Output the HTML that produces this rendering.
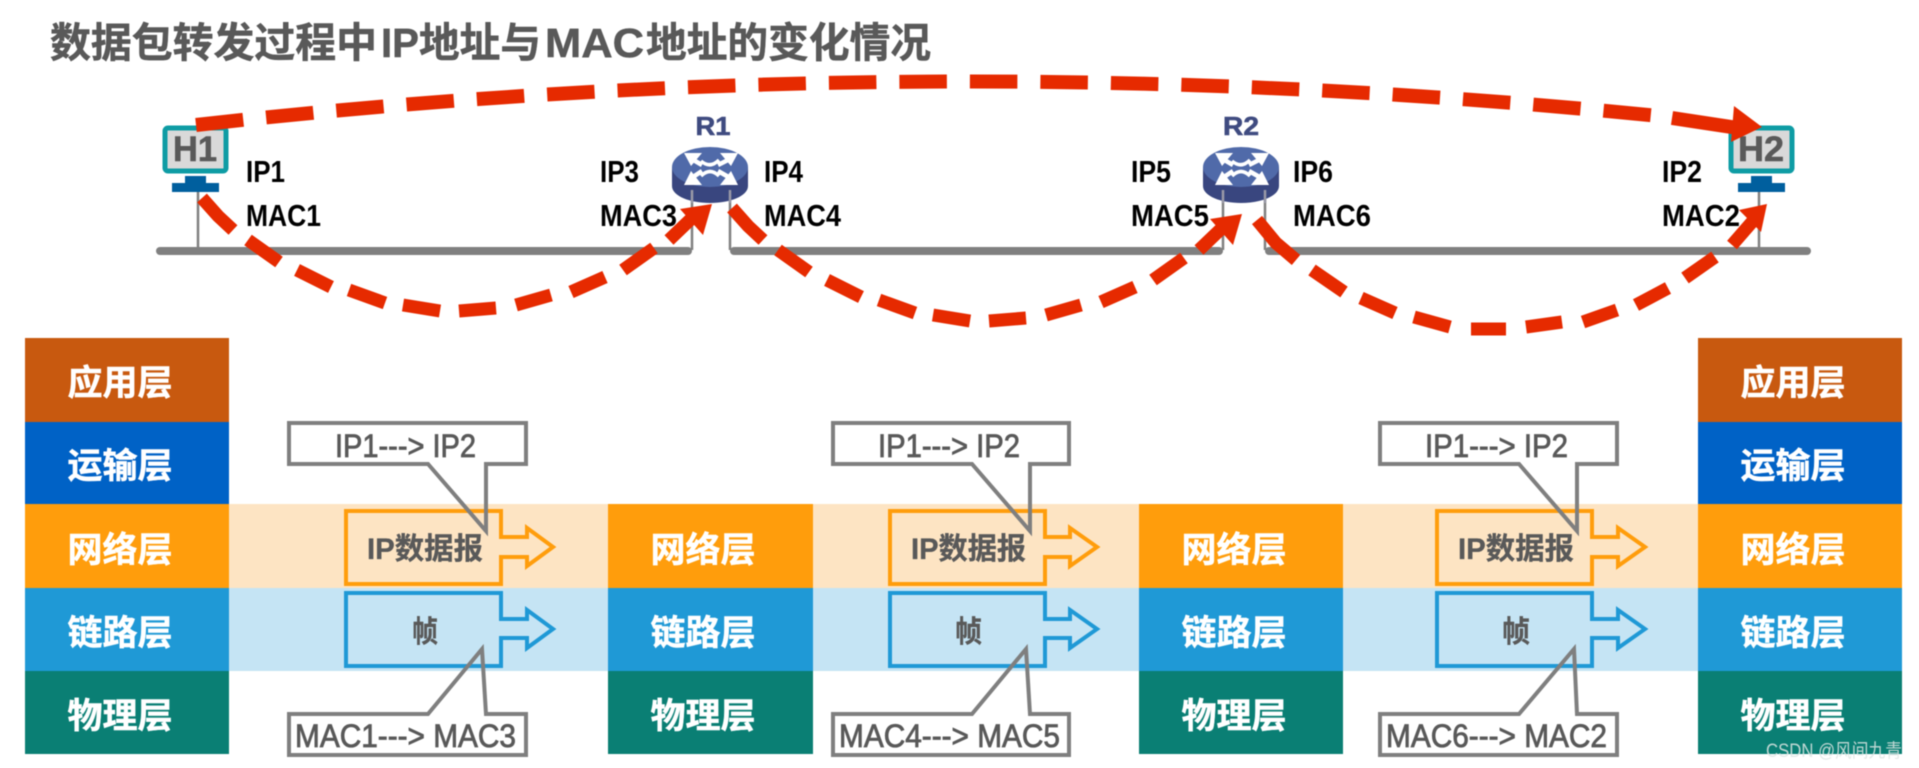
<!DOCTYPE html>
<html><head><meta charset="utf-8">
<style>
html,body{margin:0;padding:0;background:#fff;width:1919px;height:768px;overflow:hidden}
svg{display:block;filter:blur(.45px)}
text{font-family:"Liberation Sans","Noto Sans CJK SC",sans-serif}
.w{fill:#fff;font-weight:700;font-size:35px;text-anchor:middle;stroke:#fff;stroke-width:.5}
.l{fill:#000;font-size:31px;font-weight:700}
.c{fill:#595959;font-size:32px;stroke:#595959;stroke-width:.8}
.t{fill:#595959;font-size:41px;font-weight:700;stroke:#595959;stroke-width:.5}
.b{fill:#595959;font-size:30px;font-weight:700;stroke:#595959;stroke-width:.3}
.call{fill:none;stroke:#7f7f7f;stroke-width:4;stroke-linejoin:miter}
.o{fill:none;stroke:#FF9D0C;stroke-width:4}
.s{fill:none;stroke:#1F99D6;stroke-width:4}
</style></head><body>
<svg width="1919" height="768" viewBox="0 0 1919 768" xmlns="http://www.w3.org/2000/svg">
<defs>
<clipPath id="topclip"><rect x="150" y="50" width="1512" height="120"/></clipPath>
<g id="router">
  <path d="M672 167V186C672 196 690 203 710 203C730 203 748 196 748 186V167Z" fill="#39467F"/>
  <ellipse cx="710" cy="167" rx="38" ry="20" fill="#506AA9"/>
  <g fill="none" stroke="#fff" stroke-width="4.5">
    <path d="M702 165L690 158"/><path d="M718 165L732 158"/><path d="M702 171L690 179"/><path d="M718 171L732 179"/>
    <path d="M701 161Q710 169 719 160" stroke-width="3.5"/><path d="M701 176Q710 167 719 176" stroke-width="3.5"/>
  </g>
  <g fill="#fff">
    <polygon points="684,153 702,153 691,166"/>
    <polygon points="738,153 720,153 731,166"/>
    <polygon points="684,185 702,185 691,171"/>
    <polygon points="738,185 720,185 731,171"/>
  </g>
</g>
<g id="curve">
  <g fill="none" stroke="#E62A00" stroke-width="13">
    <path d="M202 198L218 216L233 230"/>
    <path d="M248 240L279 262"/>
    <path d="M297 270L331 287"/>
    <path d="M349 290L385 303"/>
    <path d="M403 305L440 311"/>
    <path d="M459 311L496 308"/>
    <path d="M516 305L551 295"/>
    <path d="M571 292L605 277"/>
    <path d="M623 270L654 248"/>
    <path d="M669 240L692 218"/>
  </g>
  <polygon points="680,209 712,204 703,235" fill="#E62A00"/>
</g>
</defs>

<!-- Title -->
<text class="t" x="50" y="57" textLength="327" lengthAdjust="spacingAndGlyphs">数据包转发过程中</text>
<text class="t" x="381" y="57" textLength="38" lengthAdjust="spacingAndGlyphs">IP</text>
<text class="t" x="419" y="57" textLength="122" lengthAdjust="spacingAndGlyphs">地址与</text>
<text class="t" x="545" y="57" textLength="99" lengthAdjust="spacingAndGlyphs">MAC</text>
<text class="t" x="646" y="57" textLength="285" lengthAdjust="spacingAndGlyphs">地址的变化情况</text>

<!-- Network bars -->
<g fill="#808080">
  <rect x="156" y="247" width="536" height="8" rx="4"/>
  <rect x="730" y="247" width="493" height="8" rx="4"/>
  <rect x="1265" y="247" width="546" height="8" rx="4"/>
</g>
<g stroke="#808080" stroke-width="2.5" fill="none">
  <path d="M198 190V248M692 190V250M730 190V250M1223 190V250M1265 190V250M1759 190V248"/>
</g>

<!-- Hosts -->
<g>
  <rect x="165" y="128" width="61" height="43" rx="3" fill="#D9D9D9" stroke="#0E9CA4" stroke-width="5"/>
  <text x="195" y="161" font-size="35" font-weight="700" fill="#595959" stroke="#595959" stroke-width=".6" text-anchor="middle" textLength="44" lengthAdjust="spacingAndGlyphs">H1</text>
  <rect x="185" y="176" width="21" height="8" fill="#005F9E"/>
  <rect x="172" y="183" width="47" height="9" fill="#005F9E"/>
</g>
<g>
  <rect x="1731" y="128" width="61" height="43" rx="3" fill="#D9D9D9" stroke="#0E9CA4" stroke-width="5"/>
  <text x="1761" y="161" font-size="35" font-weight="700" fill="#595959" stroke="#595959" stroke-width=".6" text-anchor="middle" textLength="46" lengthAdjust="spacingAndGlyphs">H2</text>
  <rect x="1751" y="176" width="21" height="8" fill="#005F9E"/>
  <rect x="1738" y="183" width="47" height="9" fill="#005F9E"/>
</g>

<!-- Routers -->
<use href="#router"/>
<use href="#router" x="531"/>
<path d="M692 190V203M730 190V203M1223 190V203M1265 190V203" stroke="#9a9aa8" stroke-width="2.5" fill="none"/>
<text x="713" y="135" font-size="26" font-weight="700" fill="#3F4B80" stroke="#3F4B80" stroke-width=".6" text-anchor="middle" textLength="35" lengthAdjust="spacingAndGlyphs">R1</text>
<text x="1241" y="135" font-size="26" font-weight="700" fill="#3F4B80" stroke="#3F4B80" stroke-width=".6" text-anchor="middle" textLength="36" lengthAdjust="spacingAndGlyphs">R2</text>

<!-- Address labels -->
<g class="lbl">
<text class="l" x="246" y="182" textLength="39" lengthAdjust="spacingAndGlyphs">IP1</text>
<text class="l" x="246" y="226" textLength="75" lengthAdjust="spacingAndGlyphs">MAC1</text>
<text class="l" x="600" y="182" textLength="39" lengthAdjust="spacingAndGlyphs">IP3</text>
<text class="l" x="600" y="226" textLength="77" lengthAdjust="spacingAndGlyphs">MAC3</text>
<text class="l" x="764" y="182" textLength="39" lengthAdjust="spacingAndGlyphs">IP4</text>
<text class="l" x="764" y="226" textLength="77" lengthAdjust="spacingAndGlyphs">MAC4</text>
<text class="l" x="1131" y="182" textLength="40" lengthAdjust="spacingAndGlyphs">IP5</text>
<text class="l" x="1131" y="226" textLength="78" lengthAdjust="spacingAndGlyphs">MAC5</text>
<text class="l" x="1293" y="182" textLength="40" lengthAdjust="spacingAndGlyphs">IP6</text>
<text class="l" x="1293" y="226" textLength="78" lengthAdjust="spacingAndGlyphs">MAC6</text>
<text class="l" x="1662" y="182" textLength="40" lengthAdjust="spacingAndGlyphs">IP2</text>
<text class="l" x="1662" y="226" textLength="78" lengthAdjust="spacingAndGlyphs">MAC2</text>
</g>

<!-- Red dashed paths -->
<path d="M196 125Q978 37 1761 127" fill="none" stroke="#E62A00" stroke-width="14" stroke-dasharray="47.5 23" clip-path="url(#topclip)"/>
<path d="M1672 118L1738 128" fill="none" stroke="#E62A00" stroke-width="14"/>
<polygon points="1734,106 1762,127 1731,142" fill="#E62A00"/>
<use href="#curve"/>
<use href="#curve" x="530" y="10"/>
<g fill="none" stroke="#E62A00" stroke-width="13">
  <path d="M1257 220L1276 243L1296 260"/>
  <path d="M1312 270L1344 292"/>
  <path d="M1361 298L1395 313"/>
  <path d="M1414 317L1450 327"/>
  <path d="M1471 329L1506 329"/>
  <path d="M1526 327L1562 322"/>
  <path d="M1583 322L1617 310"/>
  <path d="M1636 305L1668 288"/>
  <path d="M1685 278L1715 257"/>
  <path d="M1732 245L1752 222"/>
</g>
<polygon points="1739,210 1767,204 1761,232" fill="#E62A00"/>

<!-- Bands -->
<rect x="229" y="504" width="1469" height="84" fill="#FDE4C3"/>
<rect x="229" y="588" width="1469" height="83" fill="#C5E4F4"/>

<!-- Left stack -->
<rect x="25" y="338" width="204" height="84" fill="#C8590F"/>
<rect x="25" y="422" width="204" height="82" fill="#0062C6"/>
<rect x="25" y="504" width="204" height="84" fill="#FF9D0C"/>
<rect x="25" y="588" width="204" height="83" fill="#1F99D6"/>
<rect x="25" y="671" width="204" height="83" fill="#0A7F74"/>
<text class="w" x="120" y="395">应用层</text>
<text class="w" x="120" y="478">运输层</text>
<text class="w" x="120" y="562">网络层</text>
<text class="w" x="120" y="645">链路层</text>
<text class="w" x="120" y="728">物理层</text>

<!-- Middle stacks -->
<rect x="608" y="504" width="205" height="84" fill="#FF9D0C"/>
<rect x="608" y="588" width="205" height="83" fill="#1F99D6"/>
<rect x="608" y="671" width="205" height="83" fill="#0A7F74"/>
<text class="w" x="703" y="562">网络层</text>
<text class="w" x="703" y="645">链路层</text>
<text class="w" x="703" y="728">物理层</text>

<rect x="1139" y="504" width="204" height="84" fill="#FF9D0C"/>
<rect x="1139" y="588" width="204" height="83" fill="#1F99D6"/>
<rect x="1139" y="671" width="204" height="83" fill="#0A7F74"/>
<text class="w" x="1234" y="562">网络层</text>
<text class="w" x="1234" y="645">链路层</text>
<text class="w" x="1234" y="728">物理层</text>

<!-- Right stack -->
<rect x="1698" y="338" width="204" height="84" fill="#C8590F"/>
<rect x="1698" y="422" width="204" height="82" fill="#0062C6"/>
<rect x="1698" y="504" width="204" height="84" fill="#FF9D0C"/>
<rect x="1698" y="588" width="204" height="83" fill="#1F99D6"/>
<rect x="1698" y="671" width="204" height="83" fill="#0A7F74"/>
<text class="w" x="1793" y="395">应用层</text>
<text class="w" x="1793" y="478">运输层</text>
<text class="w" x="1793" y="562">网络层</text>
<text class="w" x="1793" y="645">链路层</text>
<text class="w" x="1793" y="728">物理层</text>

<!-- Group 1 -->
<path class="o" d="M346 511H501V537H527V528L553 547L527 566V557H501V584H346Z"/>
<path class="s" d="M346 593H501V619H527V610L553 629L527 648V638H501V666H346Z"/>
<path class="call" d="M289 423H526V464H486V531L428 464H289Z"/>
<path class="call" d="M289 714H428L482 649L486 714H526V755H289Z"/>
<text class="c" x="335" y="457" textLength="141" lengthAdjust="spacingAndGlyphs">IP1---&gt; IP2</text>
<text class="c" x="295" y="747" textLength="221" lengthAdjust="spacingAndGlyphs">MAC1---&gt; MAC3</text>
<text class="b" x="367" y="559" textLength="116" lengthAdjust="spacingAndGlyphs">IP数据报</text>
<text class="b" x="412" y="642" textLength="26" lengthAdjust="spacingAndGlyphs">帧</text>

<!-- Group 2 -->
<path class="o" d="M890 511H1045V537H1070V528L1097 547L1070 566V557H1045V584H890Z"/>
<path class="s" d="M890 593H1045V619H1070V610L1097 629L1070 648V638H1045V666H890Z"/>
<path class="call" d="M833 423H1069V464H1030V531L972 464H833Z"/>
<path class="call" d="M833 714H972L1026 649L1030 714H1069V755H833Z"/>
<text class="c" x="878" y="457" textLength="142" lengthAdjust="spacingAndGlyphs">IP1---&gt; IP2</text>
<text class="c" x="839" y="747" textLength="221" lengthAdjust="spacingAndGlyphs">MAC4---&gt; MAC5</text>
<text class="b" x="911" y="559" textLength="115" lengthAdjust="spacingAndGlyphs">IP数据报</text>
<text class="b" x="955" y="642" textLength="27" lengthAdjust="spacingAndGlyphs">帧</text>

<!-- Group 3 -->
<path class="o" d="M1437 511H1592V537H1618V528L1645 547L1618 566V557H1592V584H1437Z"/>
<path class="s" d="M1437 593H1592V619H1618V610L1645 629L1618 648V638H1592V666H1437Z"/>
<path class="call" d="M1380 423H1617V464H1577V531L1519 464H1380Z"/>
<path class="call" d="M1380 714H1519L1574 649L1577 714H1617V755H1380Z"/>
<text class="c" x="1425" y="457" textLength="143" lengthAdjust="spacingAndGlyphs">IP1---&gt; IP2</text>
<text class="c" x="1386" y="747" textLength="221" lengthAdjust="spacingAndGlyphs">MAC6---&gt; MAC2</text>
<text class="b" x="1458" y="559" textLength="116" lengthAdjust="spacingAndGlyphs">IP数据报</text>
<text class="b" x="1502" y="642" textLength="28" lengthAdjust="spacingAndGlyphs">帧</text>

<!-- Watermark -->
<text x="1766" y="757" font-size="19" fill="#dfe6e4" fill-opacity=".85" textLength="136" lengthAdjust="spacingAndGlyphs">CSDN @风间九青</text>
</svg>
</body></html>
